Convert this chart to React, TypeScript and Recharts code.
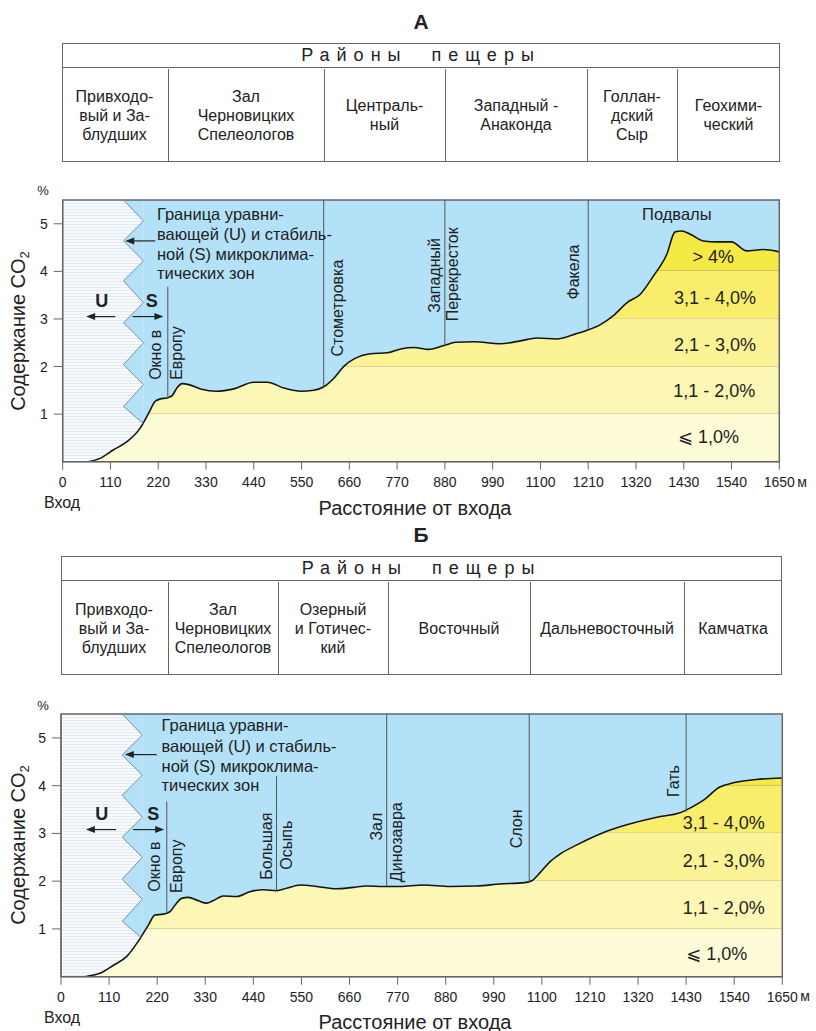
import React from 'react'
import {
  ComposedChart,
  Area,
  Line,
  XAxis,
  YAxis,
  ReferenceLine,
  ReferenceDot,
  ReferenceArea,
} from 'recharts'

const FONT = "'Liberation Sans', Arial, 'DejaVu Sans', sans-serif"

const X_TICKS = [0, 110, 220, 330, 440, 550, 660, 770, 880, 990, 1100, 1210, 1320, 1430, 1540, 1650]
const Y_TICKS = [1, 2, 3, 4, 5]
const Y_TOP = 5.5
const X_MAX = 1650

// cave profile A
const distA = [59, 86, 117, 148, 178, 198, 213, 225, 240, 252, 263, 275, 290, 317, 355, 394, 440, 471, 509, 548, 578, 602, 625, 648, 671, 709, 748, 778, 809, 843, 878, 905, 947, 1008, 1054, 1092, 1138, 1176, 1207, 1238, 1268, 1299, 1330, 1360, 1391, 1410, 1425, 1445, 1475, 1506, 1540, 1575, 1613, 1650]
const co2A = [0, 0.07, 0.25, 0.42, 0.7, 1.02, 1.27, 1.32, 1.34, 1.39, 1.55, 1.64, 1.62, 1.53, 1.48, 1.53, 1.67, 1.67, 1.55, 1.48, 1.5, 1.58, 1.76, 2.01, 2.16, 2.27, 2.29, 2.37, 2.4, 2.36, 2.44, 2.51, 2.52, 2.48, 2.54, 2.6, 2.58, 2.67, 2.76, 2.88, 3.07, 3.34, 3.52, 3.9, 4.36, 4.83, 4.85, 4.78, 4.64, 4.62, 4.62, 4.43, 4.46, 4.41]

// cave profile B
const distB = [55, 89, 120, 150, 181, 200, 215, 234, 249, 261, 276, 291, 314, 333, 348, 371, 402, 432, 463, 493, 516, 547, 585, 630, 668, 699, 737, 775, 829, 890, 951, 1004, 1061, 1077, 1096, 1119, 1142, 1180, 1233, 1294, 1363, 1416, 1439, 1469, 1507, 1538, 1591, 1650]
const co2B = [0, 0.07, 0.24, 0.42, 0.8, 1.08, 1.29, 1.31, 1.36, 1.5, 1.64, 1.66, 1.59, 1.54, 1.59, 1.69, 1.68, 1.78, 1.82, 1.8, 1.85, 1.92, 1.89, 1.84, 1.87, 1.9, 1.89, 1.89, 1.92, 1.89, 1.9, 1.94, 1.97, 2.01, 2.18, 2.41, 2.57, 2.76, 2.99, 3.18, 3.34, 3.43, 3.53, 3.69, 3.97, 4.06, 4.13, 4.16]

// zone boundary (U / S)
const ZIG_LEFT_X = 140
const ZIG_RIGHT_X = 186
const zigLeftY = [5.5, 4.64, 3.8, 2.92, 2.04, 1.16]
const zigRightY = [5.06, 4.22, 3.34, 2.5, 1.62, 0.8]

const NOTE_LINES = ['Граница уравни-', 'вающей (U) и стабиль-', 'ной (S) микроклима-', 'тических зон']
const BAND_TEXT = ['⩽ 1,0%', '1,1 - 2,0%', '2,1 - 3,0%', '3,1 - 4,0%', '> 4%']
const BAND_COLORS = ['#fefbd7', '#fcf7b4', '#fbf396', '#f9ee6c', '#f5e943']
const BLUE = '#b2e1f8'

const regionsA = ['Привходо-\nвый и За-\nблудших', 'Зал\nЧерновицких\nСпелеологов', 'Централь-\nный', 'Западный -\nАнаконда', 'Голлан-\nдский\nСыр', 'Геохими-\nческий']
const regionEdgesA = [62, 168, 324, 445, 587, 677, 780]
const regionsB = ['Привходо-\nвый и За-\nблудших', 'Зал\nЧерновицких\nСпелеологов', 'Озерный\nи Готичес-\nкий', 'Восточный', 'Дальневосточный', 'Камчатка']
const regionEdgesB = [61, 168, 278, 388, 530, 684, 782]

const stationsA = [
  { x: 242, from: 1.34, to: 3.68 },
  { x: 601, from: 1.58, to: Y_TOP },
  { x: 880, from: 2.44, to: Y_TOP },
  { x: 1210, from: 2.76, to: Y_TOP },
]
const stationLabelsA = [
  { x: 213, y: 1.72, text: 'Окно в' },
  { x: 263, y: 1.72, text: 'Европу' },
  { x: 632, y: 2.21, text: 'Стометровка' },
  { x: 855, y: 3.13, text: 'Западный' },
  { x: 897, y: 2.95, text: 'Перекресток' },
  { x: 1176, y: 3.41, text: 'Факела' },
]
const stationsB = [
  { x: 242, from: 1.36, to: 3.67 },
  { x: 493, from: 1.8, to: 4.2 },
  { x: 745, from: 1.89, to: Y_TOP },
  { x: 1071, from: 1.97, to: Y_TOP },
  { x: 1430, from: 3.45, to: Y_TOP },
]
const stationLabelsB = [
  { x: 215, y: 1.78, text: 'Окно в' },
  { x: 265, y: 1.75, text: 'Европу' },
  { x: 470, y: 2.03, text: 'Большая' },
  { x: 515, y: 2.24, text: 'Осыпь' },
  { x: 722, y: 2.85, text: 'Зал' },
  { x: 768, y: 1.98, text: 'Динозавра' },
  { x: 1042, y: 2.69, text: 'Слон' },
  { x: 1401, y: 3.76, text: 'Гать' },
]

const bandStops = (max: number) => {
  const lw = 1 / (max * 47.6)
  const stops: { o: number; c: string }[] = []
  for (let i = 4; i >= 0; i--) {
    const top = Math.min(max, i + 1)
    if (top <= i) continue
    const fTop = (max - top) / max
    const fBot = (max - i) / max
    stops.push({ o: fTop, c: BAND_COLORS[i] })
    if (i > 0) {
      const lc = i === 4 ? '#cfc65e' : '#ded698'
      stops.push({ o: fBot - lw, c: BAND_COLORS[i] })
      stops.push({ o: fBot - lw, c: lc })
      stops.push({ o: fBot, c: lc })
    } else {
      stops.push({ o: fBot, c: BAND_COLORS[i] })
    }
  }
  return stops
}

const VText = (text: string) => (p: any) => (
  <text
    x={p.cx}
    y={p.cy}
    transform={`rotate(-90 ${p.cx} ${p.cy})`}
    textAnchor="start"
    dominantBaseline="central"
    fontSize={16}
    fill="#222"
    fontFamily={FONT}
  >
    {text}
  </text>
)

const HText = (text: string, size: number, anchor: string, bold = false) => (p: any) => (
  <text
    x={p.cx}
    y={p.cy}
    textAnchor={anchor}
    dominantBaseline="central"
    fontSize={size}
    fontWeight={bold ? 'bold' : 'normal'}
    fill="#222"
    fontFamily={FONT}
  >
    {text}
  </text>
)

const Head = (dir: number) => (p: any) => (
  <polygon
    points={`${p.cx},${p.cy} ${p.cx + dir * 9},${p.cy - 3.5} ${p.cx + dir * 9},${p.cy + 3.5}`}
    fill="#222"
  />
)

const Profile = ({ cfg }: { cfg: any }) => {
  const curve = cfg.dist.map((x: number, i: number) => ({ x, v: cfg.co2[i] }))
  const max = Math.max(...cfg.co2)
  const zig: { x: number; y: number }[] = []
  zigLeftY.forEach((y, i) => {
    zig.push({ x: ZIG_LEFT_X, y })
    zig.push({ x: ZIG_RIGHT_X, y: zigRightY[i] })
  })
  const teeth = zigLeftY.map((y, i) => [
    { x: ZIG_LEFT_X, r: [y, y] },
    { x: ZIG_RIGHT_X, r: [zigRightY[i], i === 0 ? Y_TOP : zigRightY[i - 1]] },
  ])
  return (
    <ComposedChart width={816} height={cfg.height} margin={cfg.margin}>
      <defs>
        <pattern id={`stripes${cfg.id}`} width="4" height="3" patternUnits="userSpaceOnUse">
          <rect width="4" height="3" fill="#f8fbfe" />
          <rect y="2" width="4" height="1" fill="#e2eaf4" />
        </pattern>
        <linearGradient id={`bands${cfg.id}`} x1="0" y1="0" x2="0" y2="1">
          {bandStops(max).map((s, i) => (
            <stop key={i} offset={s.o} stopColor={s.c} />
          ))}
        </linearGradient>
      </defs>
      <XAxis
        dataKey="x"
        type="number"
        domain={[0, X_MAX]}
        ticks={X_TICKS}
        allowDataOverflow
        tickSize={8}
        tickMargin={7}
        height={40}
        tick={{ fill: '#222', fontSize: 14, fontFamily: FONT }}
        stroke="#666"
      />
      <YAxis
        type="number"
        domain={[0, Y_TOP]}
        ticks={Y_TICKS}
        allowDataOverflow
        tickSize={9}
        tickMargin={6}
        width={40}
        tick={{ fill: '#222', fontSize: 14, fontFamily: FONT }}
        stroke="#666"
      />
      <Area
        data={[{ x: 0, r: [0, Y_TOP] }, { x: X_MAX, r: [0, Y_TOP] }]}
        dataKey="r"
        type="linear"
        fill={BLUE}
        fillOpacity={1}
        stroke="none"
        dot={false}
        activeDot={false}
        isAnimationActive={false}
      />
      <Area
        data={[{ x: 0, r: [0, Y_TOP] }, { x: ZIG_RIGHT_X, r: [0, Y_TOP] }]}
        dataKey="r"
        type="linear"
        fill={`url(#stripes${cfg.id})`}
        fillOpacity={1}
        stroke="none"
        dot={false}
        activeDot={false}
        isAnimationActive={false}
      />
      {teeth.map((t, i) => (
        <Area
          key={`t${i}`}
          data={t}
          dataKey="r"
          type="linear"
          fill={BLUE}
          fillOpacity={1}
          stroke="none"
          dot={false}
          activeDot={false}
          isAnimationActive={false}
        />
      ))}
      <Line
        data={zig}
        dataKey="y"
        type="linear"
        stroke="#7d8d9c"
        strokeWidth={1}
        dot={false}
        activeDot={false}
        isAnimationActive={false}
      />
      <Area
        data={curve}
        dataKey="v"
        type="monotone"
        fill={`url(#bands${cfg.id})`}
        fillOpacity={1}
        stroke="#151515"
        strokeWidth={1.6}
        dot={false}
        activeDot={false}
        isAnimationActive={false}
      />
      {cfg.stations.map((s: any, i: number) => (
        <ReferenceLine
          key={`s${i}`}
          segment={[{ x: s.x, y: s.from }, { x: s.x, y: s.to }]}
          stroke="#555"
          strokeWidth={1}
        />
      ))}
      {cfg.stationLabels.map((s: any, i: number) => (
        <ReferenceDot key={`l${i}`} x={s.x} y={s.y} r={0} shape={VText(s.text)} />
      ))}
      {NOTE_LINES.map((t, i) => (
        <ReferenceDot key={`n${i}`} x={cfg.noteX} y={cfg.noteY[i]} r={0} shape={HText(t, 16.5, 'start')} />
      ))}
      <ReferenceLine
        segment={[{ x: cfg.noteArrow[0], y: cfg.noteArrow[2] }, { x: cfg.noteArrow[1] + 8, y: cfg.noteArrow[2] }]}
        stroke="#222"
        strokeWidth={1.2}
      />
      <ReferenceDot x={cfg.noteArrow[1]} y={cfg.noteArrow[2]} r={0} shape={Head(1)} />
      <ReferenceDot x={cfg.u[0]} y={cfg.u[1]} r={0} shape={HText('U', 18, 'middle', true)} />
      <ReferenceDot x={cfg.s[0]} y={cfg.s[1]} r={0} shape={HText('S', 18, 'middle', true)} />
      <ReferenceLine
        segment={[{ x: cfg.leftArrow[0], y: cfg.arrowY }, { x: cfg.leftArrow[1] + 8, y: cfg.arrowY }]}
        stroke="#222"
        strokeWidth={1.2}
      />
      <ReferenceDot x={cfg.leftArrow[1]} y={cfg.arrowY} r={0} shape={Head(1)} />
      <ReferenceLine
        segment={[{ x: cfg.rightArrow[0], y: cfg.arrowY }, { x: cfg.rightArrow[1] - 8, y: cfg.arrowY }]}
        stroke="#222"
        strokeWidth={1.2}
      />
      <ReferenceDot x={cfg.rightArrow[1]} y={cfg.arrowY} r={0} shape={Head(-1)} />
      {cfg.extra.map((e: any, i: number) => (
        <ReferenceDot key={`e${i}`} x={e.x} y={e.y} r={0} shape={HText(e.text, 16.5, 'middle')} />
      ))}
      {cfg.bandY.map((y: number, i: number) => (
        <ReferenceDot key={`b${i}`} x={cfg.bandX[i]} y={y} r={0} shape={HText(BAND_TEXT[i], 18, 'middle')} />
      ))}
      <ReferenceArea x1={0} x2={X_MAX} y1={0} y2={Y_TOP} fill="none" stroke="#666" strokeWidth={1.5} />
    </ComposedChart>
  )
}

const cfgA = {
  id: 'A',
  height: 340,
  margin: { top: 20, right: 36.7, bottom: 18.3, left: 22.7 },
  dist: distA,
  co2: co2A,
  stations: stationsA,
  stationLabels: stationLabelsA,
  noteX: 217,
  noteY: [5.2, 4.78, 4.36, 3.96],
  noteArrow: [213, 144, 4.64],
  u: [90, 3.38],
  s: [205, 3.38],
  arrowY: 3.05,
  leftArrow: [121, 54],
  rightArrow: [161, 232],
  extra: [{ x: 1414, y: 5.2, text: 'Подвалы' }],
  bandX: [1487, 1500, 1502, 1502, 1498],
  bandY: [0.51, 1.48, 2.46, 3.45, 4.31],
}

const cfgB = {
  id: 'B',
  height: 331,
  margin: { top: 14, right: 33.7, bottom: 14.3, left: 21 },
  dist: distB,
  co2: co2B,
  stations: stationsB,
  stationLabels: stationLabelsB,
  noteX: 230,
  noteY: [5.26, 4.84, 4.42, 4.02],
  noteArrow: [219, 146, 4.65],
  u: [93, 3.41],
  s: [211, 3.41],
  arrowY: 3.08,
  leftArrow: [126, 57],
  rightArrow: [165, 236],
  extra: [],
  bandX: [1500, 1516, 1516, 1516],
  bandY: [0.48, 1.43, 2.43, 3.22],
}

const Regions = ({ top, edges, names }: { top: number; edges: number[]; names: string[] }) => {
  const left = edges[0]
  const width = edges[edges.length - 1] - left
  return (
    <div
      style={{
        position: 'absolute',
        left,
        top,
        width,
        height: 119,
        border: '1.5px solid #666',
        boxSizing: 'border-box',
        fontFamily: FONT,
        color: '#222',
      }}
    >
      <div
        style={{
          height: 23,
          borderBottom: '1.5px solid #666',
          textAlign: 'center',
          fontSize: 18,
          lineHeight: '23px',
          letterSpacing: 7,
          whiteSpace: 'pre',
        }}
      >
        {'Районы  пещеры'}
      </div>
      {names.map((n, i) => (
        <div
          key={i}
          style={{
            position: 'absolute',
            left: edges[i] - left - 1.5,
            top: 24.5,
            width: edges[i + 1] - edges[i],
            height: 93,
            borderLeft: i > 0 ? '1.5px solid #666' : 'none',
            boxSizing: 'border-box',
            display: 'flex',
            alignItems: 'center',
            justifyContent: 'center',
            textAlign: 'center',
            whiteSpace: 'pre',
            fontSize: 16,
            lineHeight: '19px',
          }}
        >
          {n}
        </div>
      ))}
    </div>
  )
}

const Label = ({ x, y, children, size, rotate = false, bold = false }: any) => (
  <div
    style={{
      position: 'absolute',
      left: x,
      top: y,
      transform: `translate(-50%, -50%)${rotate ? ' rotate(-90deg)' : ''}`,
      fontFamily: FONT,
      fontSize: size,
      fontWeight: bold ? 'bold' : 'normal',
      color: '#222',
      whiteSpace: 'nowrap',
      lineHeight: 1,
    }}
  >
    {children}
  </div>
)

const CO2 = () => (
  <span>
    Содержание CO<span style={{ fontSize: 13, verticalAlign: -4 }}>2</span>
  </span>
)

export default function App() {
  return (
    <div style={{ position: 'absolute', left: 0, top: 0, width: 816, height: 1031, background: '#fff' }}>
      <Label x={421} y={21} size={21} bold>
        А
      </Label>
      <Regions top={43} edges={regionEdgesA} names={regionsA} />
      <div style={{ position: 'absolute', left: 0, top: 180 }}>
        <Profile cfg={cfgA} />
      </div>
      <Label x={43} y={190} size={13}>%</Label>
      <Label x={19} y={331} size={20} rotate>
        <CO2 />
      </Label>
      <Label x={62} y={503} size={16}>Вход</Label>
      <Label x={802} y={482} size={14}>м</Label>
      <Label x={415} y={508} size={20}>Расстояние от входа</Label>

      <Label x={421} y={534} size={21} bold>
        Б
      </Label>
      <Regions top={556} edges={regionEdgesB} names={regionsB} />
      <div style={{ position: 'absolute', left: 0, top: 700 }}>
        <Profile cfg={cfgB} />
      </div>
      <Label x={43} y={705} size={13}>%</Label>
      <Label x={19} y={845} size={20} rotate>
        <CO2 />
      </Label>
      <Label x={62} y={1018} size={16}>Вход</Label>
      <Label x={805} y={996} size={14}>м</Label>
      <Label x={415} y={1022} size={20}>Расстояние от входа</Label>
    </div>
  )
}
